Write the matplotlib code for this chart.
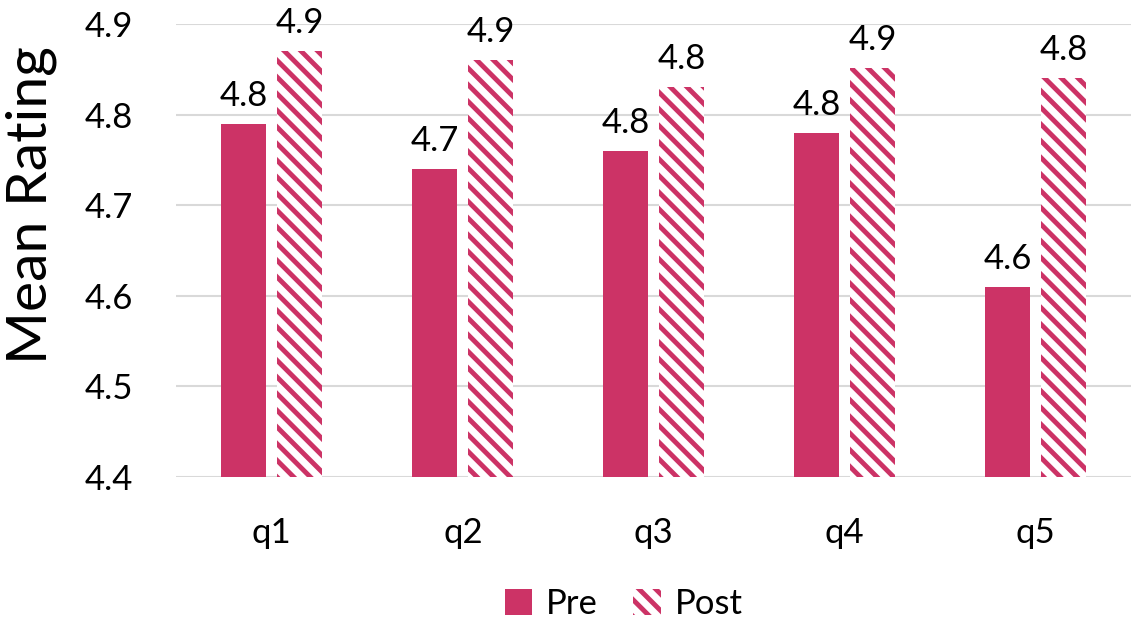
import matplotlib
matplotlib.use("Agg")
import matplotlib.pyplot as plt
import numpy as np

categories = ["q1", "q2", "q3", "q4", "q5"]
pre = [4.79, 4.74, 4.76, 4.78, 4.61]
post = [4.87, 4.86, 4.83, 4.851, 4.84]
yticks = [4.4, 4.5, 4.6, 4.7, 4.8, 4.9]

plt.rcParams['font.family'] = ['Lato', 'DejaVu Sans']
plt.rcParams['hatch.linewidth'] = 3.5
color = "#CC3366"

fig = plt.figure(figsize=(11.38, 6.24), dpi=100)
ax = fig.add_axes([0.155, 0.2356, 0.839, 0.7259])

x = np.arange(len(categories))
w = 0.236
off = 0.147
b1 = ax.bar(x - off, pre, w, color=color, label="Pre", zorder=3)
b2 = ax.bar(x + off, post, w, facecolor="white", edgecolor=color, hatch="\\\\",
            linewidth=0, label="Post", zorder=3)

for xi, v in zip(x - off, pre):
    ax.text(xi, v + 0.02, f"{v:.1f}", ha="center", va="baseline", fontsize=25)
for xi, v in zip(x + off, post):
    ax.text(xi, v + 0.02, f"{round(v + 1e-9, 1):.1f}", ha="center", va="baseline", fontsize=25)

ax.set_ylim(4.4, 4.9)
ax.set_xlim(-0.5, 4.5)
ax.set_yticks(yticks)
ax.set_yticklabels([f"{t:.1f}" for t in yticks])
ax.set_xticks(x)
ax.set_xticklabels(categories)
ax.tick_params(axis="both", length=0, labelsize=25)
ax.tick_params(axis="y", pad=31)
ax.tick_params(axis="x", pad=29)
ax.grid(axis="y", color="#D9D9D9", linewidth=1.5, zorder=0)
for s in ax.spines.values():
    s.set_visible(False)
ax.set_ylabel("Mean Rating", fontsize=41)
ax.yaxis.set_label_coords(-0.1246, 0.6)

fig.legend(handles=[b1, b2], labels=["Pre", "Post"], loc="center",
           bbox_to_anchor=(0.548, 0.032), ncol=2, frameon=False, fontsize=25,
           handlelength=0.8, handleheight=0.8, handletextpad=0.4, columnspacing=1.0)

fig.savefig("out.png", dpi=100)
